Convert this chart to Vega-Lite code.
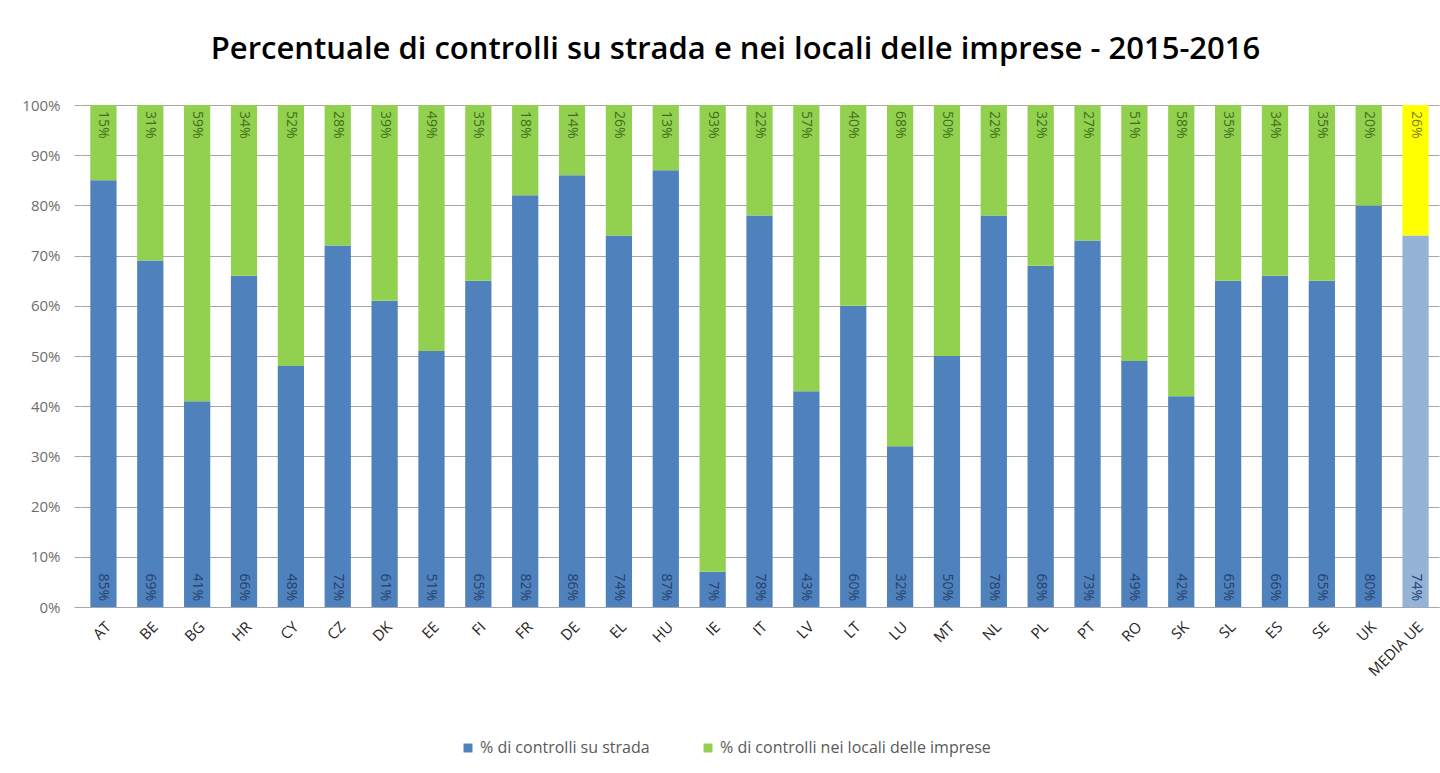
{
  "$schema": "https://vega.github.io/schema/vega-lite/v6.json",
  "width": 1359,
  "height": 502,
  "padding": {"left": 21, "top": 34, "right": 4, "bottom": 6},
  "background": "white",
  "title": {
    "text": "Percentuale di controlli su strada e nei locali delle imprese - 2015-2016",
    "font": "Open Sans",
    "fontSize": 31,
    "fontWeight": 600,
    "color": "#000000",
    "anchor": "middle",
    "dx": -24,
    "offset": 32
  },
  "config": {
    "view": {"stroke": null},
    "font": "Open Sans"
  },
  "data": {
    "values": [
      {"paese": "AT", "tipo": "% di controlli su strada", "valore": 0.85},
      {"paese": "AT", "tipo": "% di controlli nei locali delle imprese", "valore": 0.15},
      {"paese": "BE", "tipo": "% di controlli su strada", "valore": 0.69},
      {"paese": "BE", "tipo": "% di controlli nei locali delle imprese", "valore": 0.31},
      {"paese": "BG", "tipo": "% di controlli su strada", "valore": 0.41},
      {"paese": "BG", "tipo": "% di controlli nei locali delle imprese", "valore": 0.59},
      {"paese": "HR", "tipo": "% di controlli su strada", "valore": 0.66},
      {"paese": "HR", "tipo": "% di controlli nei locali delle imprese", "valore": 0.34},
      {"paese": "CY", "tipo": "% di controlli su strada", "valore": 0.48},
      {"paese": "CY", "tipo": "% di controlli nei locali delle imprese", "valore": 0.52},
      {"paese": "CZ", "tipo": "% di controlli su strada", "valore": 0.72},
      {"paese": "CZ", "tipo": "% di controlli nei locali delle imprese", "valore": 0.28},
      {"paese": "DK", "tipo": "% di controlli su strada", "valore": 0.61},
      {"paese": "DK", "tipo": "% di controlli nei locali delle imprese", "valore": 0.39},
      {"paese": "EE", "tipo": "% di controlli su strada", "valore": 0.51},
      {"paese": "EE", "tipo": "% di controlli nei locali delle imprese", "valore": 0.49},
      {"paese": "FI", "tipo": "% di controlli su strada", "valore": 0.65},
      {"paese": "FI", "tipo": "% di controlli nei locali delle imprese", "valore": 0.35},
      {"paese": "FR", "tipo": "% di controlli su strada", "valore": 0.82},
      {"paese": "FR", "tipo": "% di controlli nei locali delle imprese", "valore": 0.18},
      {"paese": "DE", "tipo": "% di controlli su strada", "valore": 0.86},
      {"paese": "DE", "tipo": "% di controlli nei locali delle imprese", "valore": 0.14},
      {"paese": "EL", "tipo": "% di controlli su strada", "valore": 0.74},
      {"paese": "EL", "tipo": "% di controlli nei locali delle imprese", "valore": 0.26},
      {"paese": "HU", "tipo": "% di controlli su strada", "valore": 0.87},
      {"paese": "HU", "tipo": "% di controlli nei locali delle imprese", "valore": 0.13},
      {"paese": "IE", "tipo": "% di controlli su strada", "valore": 0.07},
      {"paese": "IE", "tipo": "% di controlli nei locali delle imprese", "valore": 0.93},
      {"paese": "IT", "tipo": "% di controlli su strada", "valore": 0.78},
      {"paese": "IT", "tipo": "% di controlli nei locali delle imprese", "valore": 0.22},
      {"paese": "LV", "tipo": "% di controlli su strada", "valore": 0.43},
      {"paese": "LV", "tipo": "% di controlli nei locali delle imprese", "valore": 0.57},
      {"paese": "LT", "tipo": "% di controlli su strada", "valore": 0.60},
      {"paese": "LT", "tipo": "% di controlli nei locali delle imprese", "valore": 0.40},
      {"paese": "LU", "tipo": "% di controlli su strada", "valore": 0.32},
      {"paese": "LU", "tipo": "% di controlli nei locali delle imprese", "valore": 0.68},
      {"paese": "MT", "tipo": "% di controlli su strada", "valore": 0.50},
      {"paese": "MT", "tipo": "% di controlli nei locali delle imprese", "valore": 0.50},
      {"paese": "NL", "tipo": "% di controlli su strada", "valore": 0.78},
      {"paese": "NL", "tipo": "% di controlli nei locali delle imprese", "valore": 0.22},
      {"paese": "PL", "tipo": "% di controlli su strada", "valore": 0.68},
      {"paese": "PL", "tipo": "% di controlli nei locali delle imprese", "valore": 0.32},
      {"paese": "PT", "tipo": "% di controlli su strada", "valore": 0.73},
      {"paese": "PT", "tipo": "% di controlli nei locali delle imprese", "valore": 0.27},
      {"paese": "RO", "tipo": "% di controlli su strada", "valore": 0.49},
      {"paese": "RO", "tipo": "% di controlli nei locali delle imprese", "valore": 0.51},
      {"paese": "SK", "tipo": "% di controlli su strada", "valore": 0.42},
      {"paese": "SK", "tipo": "% di controlli nei locali delle imprese", "valore": 0.58},
      {"paese": "SL", "tipo": "% di controlli su strada", "valore": 0.65},
      {"paese": "SL", "tipo": "% di controlli nei locali delle imprese", "valore": 0.35},
      {"paese": "ES", "tipo": "% di controlli su strada", "valore": 0.66},
      {"paese": "ES", "tipo": "% di controlli nei locali delle imprese", "valore": 0.34},
      {"paese": "SE", "tipo": "% di controlli su strada", "valore": 0.65},
      {"paese": "SE", "tipo": "% di controlli nei locali delle imprese", "valore": 0.35},
      {"paese": "UK", "tipo": "% di controlli su strada", "valore": 0.80},
      {"paese": "UK", "tipo": "% di controlli nei locali delle imprese", "valore": 0.20},
      {"paese": "MEDIA UE", "tipo": "% di controlli su strada", "valore": 0.74},
      {"paese": "MEDIA UE", "tipo": "% di controlli nei locali delle imprese", "valore": 0.26}
    ]
  },
  "encoding": {
    "x": {
      "field": "paese",
      "type": "nominal",
      "sort": null,
      "scale": {"paddingInner": 0.44, "paddingOuter": 0.22},
      "axis": {
        "title": null,
        "labelAngle": -45,
        "labelFontSize": 15,
        "labelColor": "#262626",
        "labelFont": "Open Sans",
        "ticks": false,
        "domainColor": "#A6A6A6",
        "labelPadding": 12
      }
    }
  },
  "layer": [
    {
      "mark": {"type": "bar"},
      "encoding": {
        "y": {
          "field": "valore",
          "type": "quantitative",
          "stack": "zero",
          "scale": {"domain": [0, 1], "nice": false},
          "axis": {
            "title": null,
            "format": ".0%",
            "values": [0, 0.1, 0.2, 0.3, 0.4, 0.5, 0.6, 0.7, 0.8, 0.9, 1],
            "domain": false,
            "gridColor": "#A6A6A6",
            "tickColor": "#A6A6A6",
            "tickSize": 6,
            "labelFontSize": 15,
            "labelColor": "#6E6E6E",
            "labelPadding": 14
          }
        },
        "order": {"field": "tipo", "sort": "descending"},
        "color": {
          "field": "tipo",
          "type": "nominal",
          "scale": {
            "domain": ["% di controlli su strada", "% di controlli nei locali delle imprese"],
            "range": ["#4F81BD", "#92D050"]
          },
          "legend": {
            "title": null,
            "orient": "none",
            "legendX": 380,
            "legendY": 635,
            "direction": "horizontal",
            "symbolType": "square",
            "symbolSize": 80,
            "symbolStrokeWidth": 0,
            "labelFontSize": 16,
            "labelColor": "#595959",
            "labelLimit": 400,
            "columnPadding": 50
          },
          "condition": [
            {"test": "datum.paese === 'MEDIA UE' && datum.tipo === '% di controlli su strada'", "value": "#95B3D7"},
            {"test": "datum.paese === 'MEDIA UE' && datum.tipo === '% di controlli nei locali delle imprese'", "value": "#FFFF00"}
          ]
        }
      }
    },
    {
      "transform": [{"filter": "datum.tipo === '% di controlli su strada'"}],
      "mark": {"type": "text", "angle": 90, "align": "right", "baseline": "middle", "dx": -6, "fontSize": 14, "color": "#25406B"},
      "encoding": {
        "y": {"datum": 0},
        "text": {"field": "valore", "type": "quantitative", "format": ".0%"}
      }
    },
    {
      "transform": [{"filter": "datum.tipo === '% di controlli nei locali delle imprese'"}],
      "mark": {"type": "text", "angle": 90, "align": "left", "baseline": "middle", "dx": 6, "fontSize": 14},
      "encoding": {
        "y": {"datum": 1},
        "text": {"field": "valore", "type": "quantitative", "format": ".0%"},
        "color": {
          "condition": {"test": "datum.paese === 'MEDIA UE'", "value": "#7F7F1A"},
          "value": "#3F6E1A"
        }
      }
    }
  ]
}
